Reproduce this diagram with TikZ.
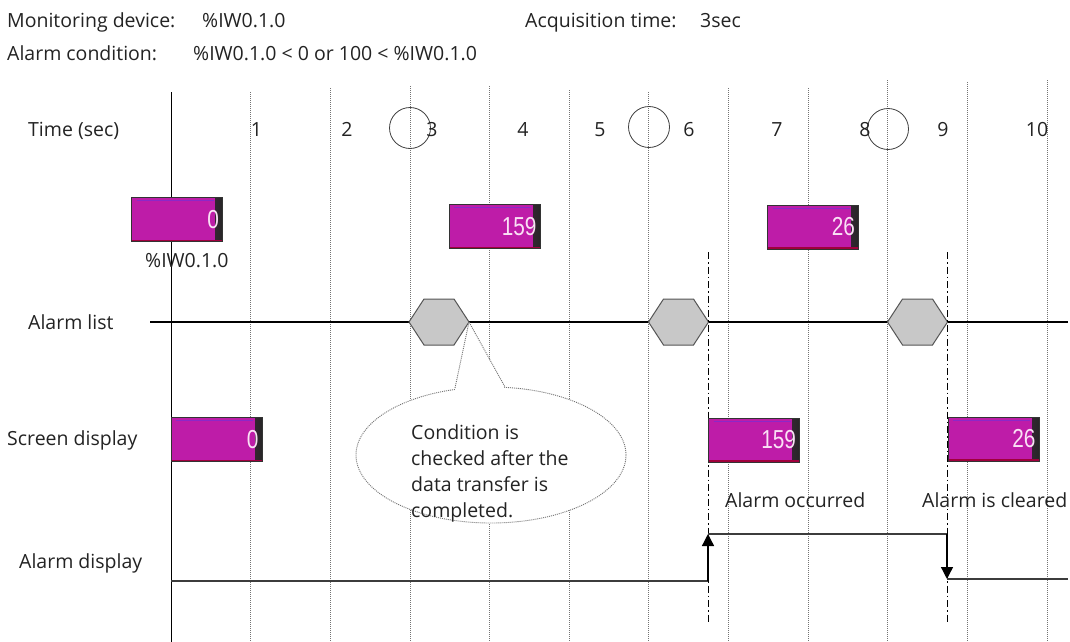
\documentclass[tikz,border=0pt]{standalone}
\usepackage{fontspec}
\setmainfont{Open Sans}
\newfontfamily\digfont{Liberation Sans}
\usetikzlibrary{shapes.geometric,arrows.meta}
\definecolor{txt}{RGB}{35,35,35}
\definecolor{mag}{RGB}{190,28,168}
\definecolor{magtop}{RGB}{140,40,200}
\definecolor{magbot}{RGB}{160,0,60}
\definecolor{digc}{RGB}{250,225,245}
\definecolor{hexfill}{RGB}{200,200,200}
\definecolor{hexdraw}{RGB}{85,85,85}
\definecolor{gridc}{RGB}{115,115,115}
\definecolor{sigc}{RGB}{60,60,60}
\begin{document}
\begin{tikzpicture}[x=1pt,y=-1pt,
  lbl/.style={anchor=base west,inner sep=0pt,text=txt,font=\fontsize{19.5}{23}\selectfont},
  num/.style={anchor=base,inner sep=0pt,text=txt,font=\fontsize{19.5}{23}\selectfont},
  gridline/.style={draw=gridc,line width=0.9pt,dash pattern=on 1pt off 1pt},
  dashdotline/.style={draw=black,line width=0.9pt,dash pattern=on 7pt off 3pt on 1.5pt off 3pt},
  marker/.style={circle,draw=black!75,line width=0.8pt,minimum size=41pt,inner sep=0pt},
  hexa/.style={draw=hexdraw,fill=hexfill,line width=1pt},
  callout/.style={draw=gridc,fill=white,line width=0.9pt,dash pattern=on 1pt off 1pt},
  valbox/.style={draw=black!80,line width=0.6pt,fill=mag,minimum width=91pt,minimum height=44pt,
    inner xsep=3.5pt,inner ysep=0pt,text width=84pt,align=right,text=digc,
    font=\digfont\fontsize{26}{26}\selectfont,
    path picture={
      \shade[left color=mag,right color=black!85]
        ([xshift=-7pt]path picture bounding box.north east) rectangle (path picture bounding box.south east);
      \draw[magtop,line width=0.8pt]
        ([shift={(5pt,-3pt)}]path picture bounding box.north west) -- ([shift={(-9pt,-3pt)}]path picture bounding box.north east);
      \draw[magbot,line width=1.6pt]
        ([yshift=1pt]path picture bounding box.south west) -- ([yshift=1pt]path picture bounding box.south east);
    }},
  signal/.style={draw=sigc,line width=1.3pt},
  sigarrow/.style={draw=black,line width=1.3pt,-{Triangle[width=12pt,length=12pt]}}
]
\fill[white] (0,0) rectangle (1070,642);
\useasboundingbox (0,0) rectangle (1070,642);

% grid lines
\foreach \x/\t in {250.65/92,330.3/88,409.95/86,489.6/86,569.25/90,648.9/92,728.55/88,808.2/88,887.85/80,967.5/82,1047.15/80}
  \draw[gridline] (\x,\t) -- (\x,642);
\draw[black,line width=1pt] (171,92) -- (171,642);

% alarm list line
\coordinate (ll) at (150,322);
\coordinate (lr) at (1068,322);
\draw[black,line width=1.1pt] (ll) -- (lr);

% acquisition markers
\node[marker] (m1) at (410,128) {};
\node[marker] (m2) at (649,127) {};
\node[marker] (m3) at (888,129) {};

% hexagons
\foreach \n/\cx in {1/439,2/678.5,3/917.5}{
  \coordinate (h\n) at (\cx,322);
  \draw[hexa] ([shift={(-30,0)}]h\n) -- ([shift={(-15,-23)}]h\n) -- ([shift={(15,-23)}]h\n)
    -- ([shift={(30,0)}]h\n) -- ([shift={(15,23)}]h\n) -- ([shift={(-15,23)}]h\n) -- cycle;
}
\coordinate (tip) at (469,322);

% callout
\node[callout,ellipse,minimum width=270pt,minimum height=136pt,inner sep=0pt] (call) at (491,455) {};
\coordinate (pa) at (455,388);
\coordinate (pb) at (505,387);
\fill[white] (tip) -- ([yshift=-2pt]pa) -- ([yshift=-2pt]pb) -- cycle;
\draw[callout,fill=none] (pa) -- (tip) -- (pb);
\node[lbl] (c1) at (411,439) {Condition is};
\node[lbl] (c2) at (411,465) {checked after the};
\node[lbl] (c3) at (411,491) {data transfer is};
\node[lbl] (c4) at (411,517) {completed.};

% dash-dot markers
\coordinate (d1t) at (708,252);
\coordinate (d1b) at (708,622);
\coordinate (d2t) at (947,252);
\coordinate (d2b) at (947,622);
\draw[dashdotline] (d1t) -- (d1b);
\draw[dashdotline] (d2t) -- (d2b);

% value boxes
\node[valbox] (v1) at (177,219.5) {\scalebox{0.8}[1]{0}};
\node[valbox] (v2) at (494.5,226.5) {\scalebox{0.8}[1]{159}};
\node[valbox] (v3) at (813,227) {\scalebox{0.8}[1]{26}};
\node[valbox] (s1) at (216.5,439.5) {\scalebox{0.8}[1]{0}};
\node[valbox] (s2) at (754,440) {\scalebox{0.8}[1]{159}};
\node[valbox] (s3) at (993.5,439) {\scalebox{0.8}[1]{26}};

% alarm display signal
\coordinate (a0) at (171,581);
\coordinate (a1) at (708,581);
\coordinate (a2) at (708,534);
\coordinate (a3) at (947,534);
\coordinate (a4) at (947,579);
\coordinate (a5) at (1068,579);
\draw[signal] (a0) -- (a1);
\draw[sigarrow] (a1) -- (a2);
\draw[signal] (a2) -- (a3);
\draw[sigarrow] (a3) -- (a4);
\draw[signal] (a4) -- (a5);

% texts
\node[lbl] (t1) at (7,28) {Monitoring device:};
\node[lbl] (t2) at (202,28) {\%IW0.1.0};
\node[lbl] (t3) at (525,28) {Acquisition time:};
\node[lbl] (t4) at (700,28) {3sec};
\node[lbl] (t5) at (7,60) {Alarm condition:};
\node[lbl] (t6) at (193,60) {\%IW0.1.0 < 0 or 100 < \%IW0.1.0};
\node[lbl] (time) at (28,136) {Time (sec)};
\node[lbl] (alist) at (28,329) {Alarm list};
\node[lbl] (sdisp) at (7,445) {Screen display};
\node[lbl] (adisp) at (19,568) {Alarm display};
\node[lbl] (iw) at (145,267) {\%IW0.1.0};
\node[lbl] (occ) at (725,507) {Alarm occurred};
\node[lbl] (clr) at (922,507) {Alarm is cleared};
\foreach \x/\n in {256.5/1,347/2,432/3,523/4,600/5,689/6,777/7,865/8,943/9,1037/10}
  \node[num] (n\n) at (\x,136) {\n};
\end{tikzpicture}
\end{document}
